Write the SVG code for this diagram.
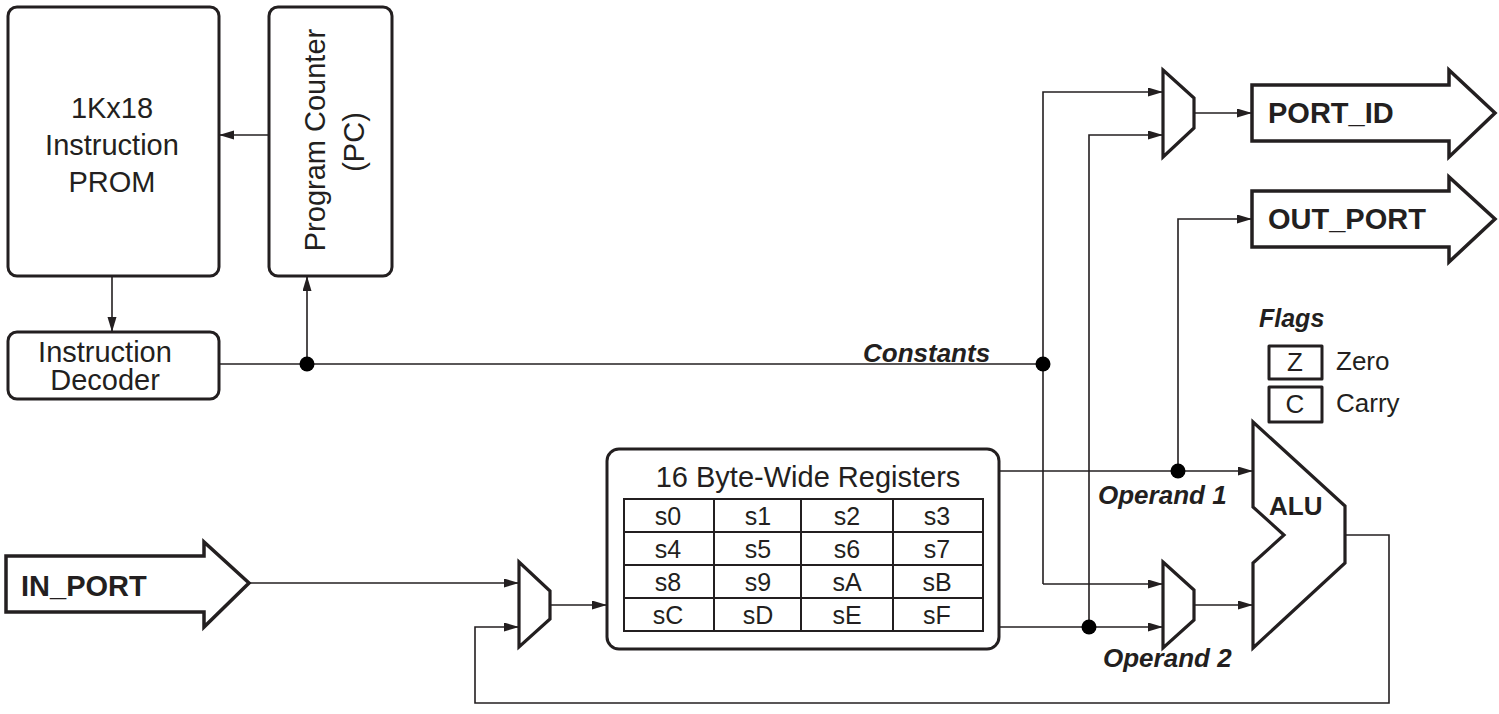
<svg xmlns="http://www.w3.org/2000/svg" width="1499" height="714" viewBox="0 0 1499 714">
<defs>
<marker id="ah" markerUnits="userSpaceOnUse" markerWidth="16" markerHeight="10" refX="15" refY="4.5" orient="auto">
<path d="M0,0 L15,4.5 L0,9 z" fill="#231f20"/>
</marker>
</defs>
<style>
.box{fill:#fff;stroke:#231f20;stroke-width:3;stroke-linejoin:round}
.shape{fill:#fff;stroke:#231f20;stroke-width:3.2;stroke-linejoin:miter}
.big{fill:#fff;stroke:#231f20;stroke-width:3.5;stroke-linejoin:miter}
.ln{fill:none;stroke:#231f20;stroke-width:1.6}
.arr{fill:none;stroke:#231f20;stroke-width:1.6;marker-end:url(#ah)}
.cell{fill:none;stroke:#231f20;stroke-width:2}
.dot{fill:#000}
text{font-family:"Liberation Sans",Arial,sans-serif;fill:#231f20}
.t29{font-size:29px;text-anchor:middle}
.t26{font-size:26px;text-anchor:middle}
.reg{font-size:25px;text-anchor:middle}
.port{font-size:29px;font-weight:bold}
.lab{font-size:26px;font-weight:bold;font-style:italic}
</style>

<g id="prom">
<rect class="box" x="8" y="7" width="211" height="269" rx="9"/>
<text class="t29" x="112" y="118">1Kx18</text>
<text class="t29" x="112" y="155">Instruction</text>
<text class="t29" x="112" y="192">PROM</text>
</g>

<g id="pc">
<rect class="box" x="269" y="7" width="123" height="269" rx="9"/>
<text class="t29" transform="translate(325,140) rotate(-90)">Program Counter</text>
<text class="t29" transform="translate(364,142) rotate(-90)">(PC)</text>
</g>

<g id="decoder">
<rect class="box" x="8" y="332" width="211" height="67" rx="9"/>
<text class="t29" x="105" y="362">Instruction</text>
<text class="t29" x="105" y="390">Decoder</text>
</g>

<g id="registers">
<rect class="box" x="607" y="449" width="392" height="200" rx="12"/>
<text class="t29" x="808" y="487">16 Byte-Wide Registers</text>
<rect class="cell" x="624" y="499" width="359" height="132" stroke-width="2.5"/>
<path class="cell" d="M624,532H983M624,565H983M624,598H983M714,499V631M801,499V631M893,499V631"/>
<text class="reg" x="668" y="525">s0</text><text class="reg" x="758" y="525">s1</text><text class="reg" x="847" y="525">s2</text><text class="reg" x="937" y="525">s3</text>
<text class="reg" x="668" y="558">s4</text><text class="reg" x="758" y="558">s5</text><text class="reg" x="847" y="558">s6</text><text class="reg" x="937" y="558">s7</text>
<text class="reg" x="668" y="591">s8</text><text class="reg" x="758" y="591">s9</text><text class="reg" x="847" y="591">sA</text><text class="reg" x="937" y="591">sB</text>
<text class="reg" x="668" y="624">sC</text><text class="reg" x="758" y="624">sD</text><text class="reg" x="847" y="624">sE</text><text class="reg" x="937" y="624">sF</text>
</g>

<g id="in_mux">
<polygon class="shape" points="519,562 550,591 550,619 519,647"/>
</g>

<g id="portid_mux">
<polygon class="shape" points="1163,70 1194,98 1194,128 1163,157"/>
</g>

<g id="operand2_mux">
<polygon class="shape" points="1163,562 1194,590 1194,620 1163,648"/>
</g>

<g id="alu">
<polygon class="shape" points="1253,422 1345,506 1345,563 1253,648 1253,563 1284,535 1253,507"/>
<text x="1269" y="515" style="font-size:26px;font-weight:bold">ALU</text>
</g>

<g id="in_port">
<polygon class="big" points="6,556 204,556 204,542 249,583 204,627 204,612 6,612"/>
<text class="port" x="21" y="596">IN_PORT</text>
</g>

<g id="port_id">
<polygon class="big" points="1252,85 1449,85 1449,70 1495,113 1449,157 1449,141 1252,141"/>
<text class="port" x="1268" y="123">PORT_ID</text>
</g>

<g id="out_port">
<polygon class="big" points="1252,191 1449,191 1449,177 1495,219 1449,262 1449,247 1252,247"/>
<text class="port" x="1268" y="229">OUT_PORT</text>
</g>

<g id="flags">
<text class="lab" x="1259" y="327" style="font-size:25px">Flags</text>
<rect class="box" x="1269" y="346" width="53" height="33" stroke-linejoin="miter"/>
<text class="t26" x="1295" y="371">Z</text>
<rect class="box" x="1269" y="387" width="53" height="35" stroke-linejoin="miter"/>
<text class="t26" x="1295" y="413">C</text>
<text x="1336" y="370" style="font-size:26px">Zero</text>
<text x="1336" y="412" style="font-size:26px">Carry</text>
</g>

<g id="connectors">
<line class="arr" x1="269" y1="135" x2="219" y2="135"/>
<line class="arr" x1="112" y1="276" x2="112" y2="332"/>
<line class="arr" x1="307" y1="364" x2="307" y2="276"/>
<line class="ln" x1="219" y1="364" x2="1043" y2="364"/>
<polyline class="arr" points="1043,584 1043,92 1163,92"/>
<line class="arr" x1="1043" y1="584" x2="1163" y2="584"/>
<polyline class="arr" points="1089,627 1089,135 1163,135"/>
<line class="arr" x1="999" y1="627" x2="1163" y2="627"/>
<line class="arr" x1="1194" y1="113" x2="1252" y2="113"/>
<polyline class="arr" points="1178,471 1178,219 1252,219"/>
<line class="arr" x1="999" y1="471" x2="1253" y2="471"/>
<line class="arr" x1="1194" y1="605" x2="1253" y2="605"/>
<polyline class="arr" points="1345,535 1389,535 1389,703 475,703 475,627 519,627"/>
<line class="arr" x1="249" y1="583" x2="519" y2="583"/>
<line class="arr" x1="550" y1="605" x2="607" y2="605"/>
<circle class="dot" cx="307" cy="364" r="7.5"/>
<circle class="dot" cx="1043" cy="364" r="7.5"/>
<circle class="dot" cx="1178" cy="471" r="7.5"/>
<circle class="dot" cx="1089" cy="627" r="7.5"/>
<text class="lab" x="863" y="362">Constants</text>
<text class="lab" x="1098" y="504">Operand 1</text>
<text class="lab" x="1103" y="667">Operand 2</text>
</g>
</svg>
